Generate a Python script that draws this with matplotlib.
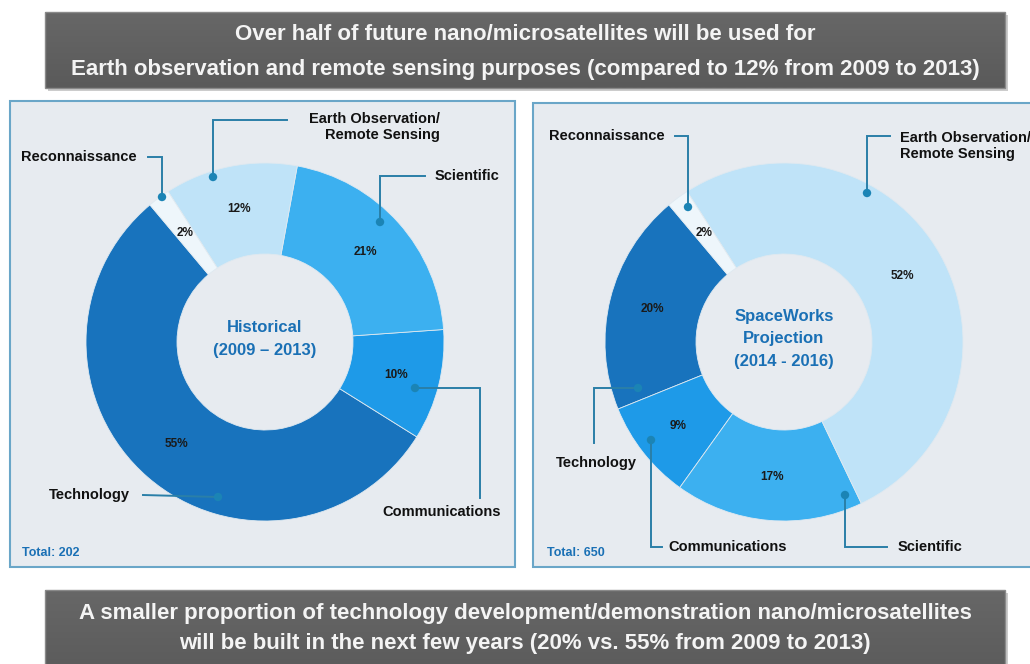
import matplotlib
matplotlib.use("Agg")
import matplotlib.pyplot as plt
from matplotlib.patches import Rectangle, Circle
import numpy as np

plt.rcParams['font.family'] = ['Liberation Sans', 'DejaVu Sans']

# ---- data -------------------------------------------------------------
categories = ["Technology", "Communications", "Scientific",
              "Earth Observation/\nRemote Sensing", "Reconnaissance"]
historical = [55, 10, 21, 12, 2]          # 2009 - 2013, total 202
projection = [20, 9, 17, 52, 2]           # 2014 - 2016, total 650
totals = [202, 650]
panel_titles = ["Historical\n(2009 \u2013 2013)", "SpaceWorks\nProjection\n(2014 - 2016)"]
header_lines = ["Over half of future nano/microsatellites will be used for",
                "Earth observation and remote sensing purposes (compared to 12% from 2009 to 2013)"]
footer_lines = ["A smaller proportion of technology development/demonstration nano/microsatellites",
                "will be built in the next few years (20% vs. 55% from 2009 to 2013)"]

slice_colors = ["#1873bd", "#1e9ae8", "#3cb0f0", "#bfe3f8", "#eef6fb"]
panel_bg = "#e7ebf0"
panel_edge = "#6aa6c8"
leader = "#2a7fa8"
accent = "#1a70b5"

W, H = 1030, 664
fig = plt.figure(figsize=(W / 100, H / 100), dpi=100)
ax = fig.add_axes([0, 0, 1, 1])


def Y(py):
    return H - py


def banner(x0, y0, x1, y1, lines, ys, size):
    # drop shadow
    ax.add_patch(Rectangle((x0 + 3, Y(y1) - 3), x1 - x0, y1 - y0,
                           facecolor="#9a9a9a", edgecolor="none", alpha=0.5, zorder=1))
    grad = np.linspace(0, 1, 64).reshape(-1, 1)
    ax.imshow(grad, extent=(x0, x1, Y(y1), Y(y0)), origin="lower",
              cmap=matplotlib.colors.LinearSegmentedColormap.from_list(
                  "g", ["#5a5a5a", "#676767"]), aspect="auto", zorder=2)
    ax.add_patch(Rectangle((x0, Y(y1)), x1 - x0, y1 - y0, facecolor="none",
                           edgecolor="#8a8a8a", linewidth=1.0, zorder=3))
    for txt, yy in zip(lines, ys):
        ax.text((x0 + x1) / 2, Y(yy), txt, ha="center", va="center",
                fontsize=size, fontweight="bold", color="#f4f4f4", zorder=4)


def panel(x0, y0, x1, y1):
    ax.add_patch(Rectangle((x0, Y(y1)), x1 - x0, y1 - y0, facecolor=panel_bg,
                           edgecolor=panel_edge, linewidth=1.5, zorder=1))


def callout(points, dot):
    xs = [p[0] for p in points]
    ys = [Y(p[1]) for p in points]
    ax.plot(xs, ys, color=leader, linewidth=1.4, zorder=6, solid_joinstyle="miter")
    ax.add_patch(Circle((dot[0], Y(dot[1])), 4.2, facecolor="#1b84b5",
                        edgecolor="none", zorder=7))


def label(x, y, txt, ha="left", color="#111111", size=10.5):
    ax.text(x, Y(y), txt, ha=ha, va="center", fontsize=size, fontweight="bold",
            color=color, multialignment=ha if ha != "center" else "center", zorder=8)


def donut(cx, cy, values, title):
    ax.pie(values, colors=slice_colors, startangle=130, counterclock=True,
           radius=179, center=(cx, Y(cy)), frame=True,
           wedgeprops=dict(width=91, edgecolor="#dfe9f0", linewidth=0.6),
           autopct=lambda p: f"{p:.0f}%", pctdistance=0.755,
           textprops=dict(fontsize=8.5, fontweight="bold", color="#1a1a1a"))
    ax.text(cx, Y(cy - 3), title, ha="center", va="center", fontsize=12,
            fontweight="bold", color=accent, linespacing=1.6, zorder=8)


# ---- banners and panels ----------------------------------------------
banner(45, 12, 1005, 88, header_lines, [35, 70], 16)
panel(10, 101, 515, 567)
panel(533, 103, 1040, 567)
banner(45, 590, 1005, 680, footer_lines, [613, 643], 16)

# ---- donuts ------------------------------------------------------------
donut(265, 342, historical, panel_titles[0])
donut(784, 342, projection, panel_titles[1])

# ---- left panel callouts ----------------------------------------------
callout([(213, 177), (213, 120), (287, 120)], (213, 177))
label(440, 127, categories[3], ha="right")
callout([(148, 157), (162, 157), (162, 197)], (162, 197))
label(137, 157, categories[4], ha="right")
callout([(425, 176), (380, 176), (380, 222)], (380, 222))
label(435, 176, categories[2])
callout([(415, 388), (480, 388), (480, 498)], (415, 388))
label(442, 512, categories[1], ha="center")
callout([(143, 495), (218, 497)], (218, 497))
label(130, 495, categories[0], ha="right")
label(22, 553, f"Total: {totals[0]}", color=accent, size=9)

# ---- right panel callouts ---------------------------------------------
callout([(675, 136), (688, 136), (688, 207)], (688, 207))
label(665, 136, categories[4], ha="right")
callout([(890, 136), (867, 136), (867, 193)], (867, 193))
label(900, 146, categories[3])
callout([(594, 443), (594, 388), (638, 388)], (638, 388))
label(596, 463, categories[0], ha="center")
callout([(651, 440), (651, 547), (662, 547)], (651, 440))
label(668, 547, categories[1])
callout([(845, 495), (845, 547), (887, 547)], (845, 495))
label(898, 547, categories[2])
label(547, 553, f"Total: {totals[1]}", color=accent, size=9)

ax.set_xlim(0, W)
ax.set_ylim(0, H)
ax.set_aspect("auto")
ax.axis("off")
fig.savefig("out.png", dpi=100, facecolor="white")
